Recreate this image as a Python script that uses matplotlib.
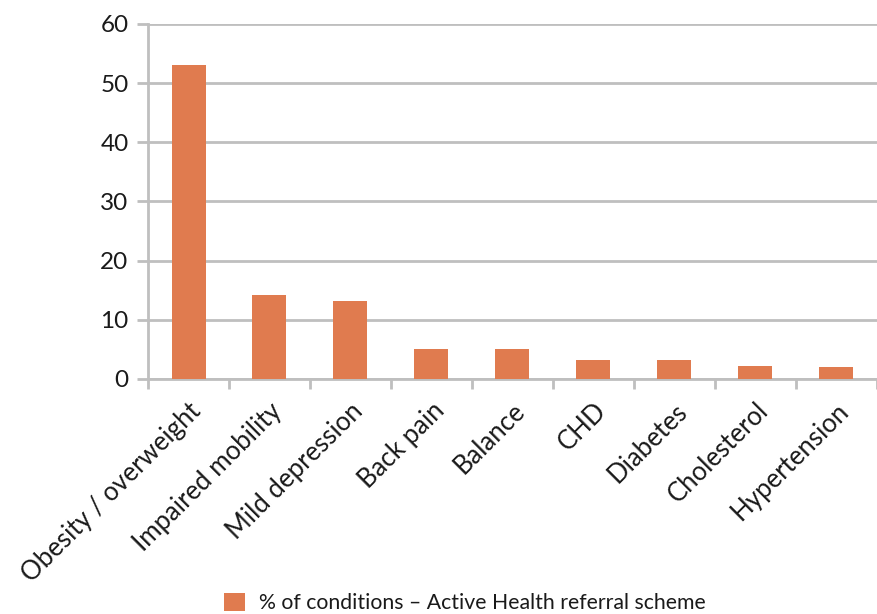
import matplotlib
matplotlib.use("Agg")
from matplotlib import pyplot as plt
import numpy as np

categories = ["Obesity / overweight", "Impaired mobility", "Mild depression", "Back pain",
              "Balance", "CHD", "Diabetes", "Cholesterol", "Hypertension"]
values = [53.0, 14.2, 13.2, 5.1, 5.1, 3.2, 3.2, 2.2, 2.0]
y_ticks = [0, 10, 20, 30, 40, 50, 60]
legend_label = "% of conditions \u2013 Active Health referral scheme"

bar_color = "#e07b4f"
grid_color = "#bfbfbf"
text_color = "#1a1a1a"

plt.rcParams["font.family"] = ["Lato", "DejaVu Sans"]

fig = plt.figure(figsize=(8.78, 6.14), dpi=100)
ax = fig.add_axes([0.1686, 0.383, 0.83, 0.578])

x = np.arange(len(categories))
ax.bar(x, values, width=0.42, color=bar_color, label=legend_label, zorder=3)

ax.set_xlim(-0.5, len(categories) - 0.5)
ax.set_ylim(0, 60)
ax.set_yticks(y_ticks)
ax.yaxis.grid(True, color=grid_color, linewidth=2, zorder=0)
ax.set_axisbelow(True)

# labels at bar centres, tick marks between categories
ax.set_xticks(x)
ax.set_xticklabels(categories, rotation=45, ha="right", rotation_mode="anchor",
                   fontsize=18.5, color=text_color)
ax.set_xticks(np.arange(len(categories) + 1) - 0.5, minor=True)
ax.tick_params(axis="x", which="major", length=0, pad=14)
ax.tick_params(axis="x", which="minor", length=7, width=2, color=grid_color)
ax.tick_params(axis="y", length=8, width=2, color=grid_color, labelsize=17.5,
               labelcolor=text_color, pad=6)

for side in ["top", "right"]:
    ax.spines[side].set_visible(False)
ax.spines["left"].set_color(grid_color)
ax.spines["left"].set_linewidth(2)
ax.spines["bottom"].set_color(grid_color)
ax.spines["bottom"].set_linewidth(2)

leg = fig.legend(loc="lower center", bbox_to_anchor=(0.53, -0.03), frameon=False, fontsize=15.3,
                 handlelength=0.95, handleheight=0.95, handletextpad=0.7)
for t in leg.get_texts():
    t.set_color(text_color)

fig.savefig("out.png", dpi=100)
